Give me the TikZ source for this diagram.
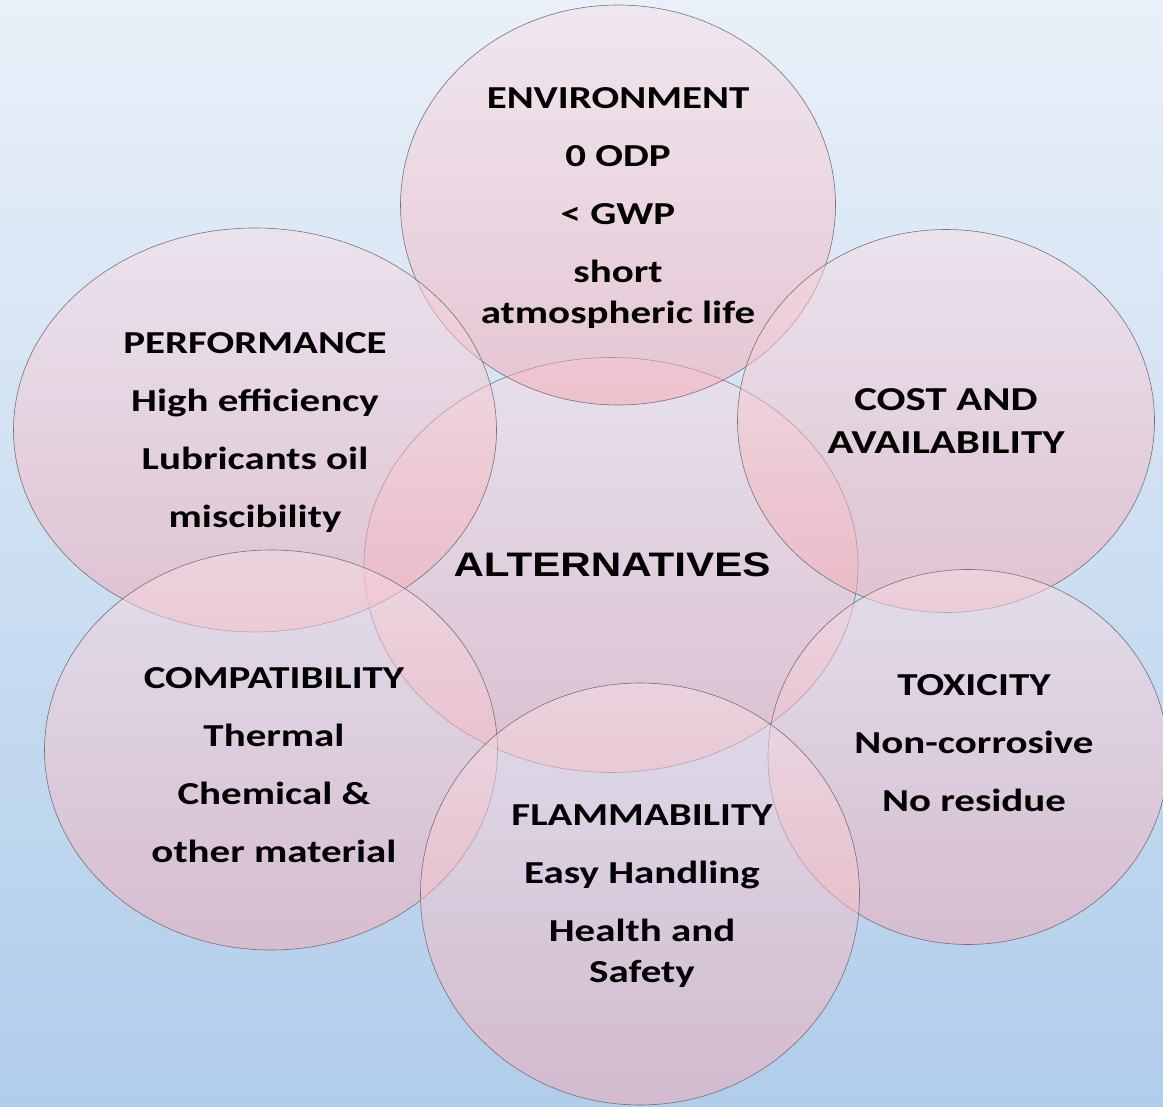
\documentclass[tikz,border=0pt]{standalone}
\usepackage{fontspec}
\setmainfont{Carlito}[FakeStretch=1.28]
\newfontfamily\altfont[FakeStretch=1.24]{Liberation Sans}
\usepackage{tikz}
\usetikzlibrary{shapes.geometric}

\definecolor{bgtop}{RGB}{233,240,249}
\definecolor{bgbot}{RGB}{176,205,235}
\definecolor{pinktop}{RGB}{247,222,230}
\definecolor{pinkbot}{RGB}{246,168,178}
\definecolor{rim}{RGB}{115,115,115}

\begin{document}
\begin{tikzpicture}[x=1pt,y=-1pt,
		blob/.style={ellipse,draw=rim,line width=0.6pt,top color=pinktop,
			bottom color=pinkbot,fill opacity=0.5,inner sep=0pt},
		words/.style={anchor=north,inner sep=0pt,align=center,
			font=\fontsize{32}{41}\selectfont\bfseries}]
		
		% background
		\shade[use as bounding box,top color=bgtop,bottom color=bgbot] (0,0) rectangle (1163,1107);
		
		\node[blob,minimum width=494,minimum height=415] (alt)    at (611,565) {};
		\node[blob,minimum width=435,minimum height=400] (env)    at (618,205) {};
		\node[blob,minimum width=483,minimum height=404] (perf)   at (255,430) {};
		\node[blob,minimum width=417,minimum height=383] (cost)   at (946,421) {};
		\node[blob,minimum width=453,minimum height=400] (compat) at (271,750) {};
		\node[blob,minimum width=400,minimum height=375] (tox)    at (968,757) {};
		\node[blob,minimum width=439,minimum height=422] (flam)   at (640,894) {};
		
		\node[words] (env-txt)    at (618,87)  {ENVIRONMENT\\[17pt]0 ODP\\[17pt]< GWP\\[17pt]short\\atmospheric life};
		\node[words] (perf-txt)   at (255,332) {PERFORMANCE\\[17pt]High efficiency\\[17pt]Lubricants oil\\[17pt]miscibility};
		\node[words,font=\fontsize{33.5}{43}\selectfont\bfseries] (cost-txt) at (946,388) {COST AND\\AVAILABILITY};
		\node[words] (compat-txt) at (274,667) {COMPATIBILITY\\[17pt]Thermal\\[17pt]Chemical \&\\[17pt]other material};
		\node[words] (tox-txt)    at (974,674) {TOXICITY\\[17pt]Non-corrosive\\[17pt]No residue};
		\node[words] (flam-txt)   at (642,805) {FLAMMABILITY\\[17pt]Easy Handling\\[17pt]Health and\\Safety};
		\node[font=\altfont\fontsize{34}{40}\selectfont\bfseries] (alt-txt) at (612,565) {ALTERNATIVES};
		
\end{tikzpicture}
\end{document}
